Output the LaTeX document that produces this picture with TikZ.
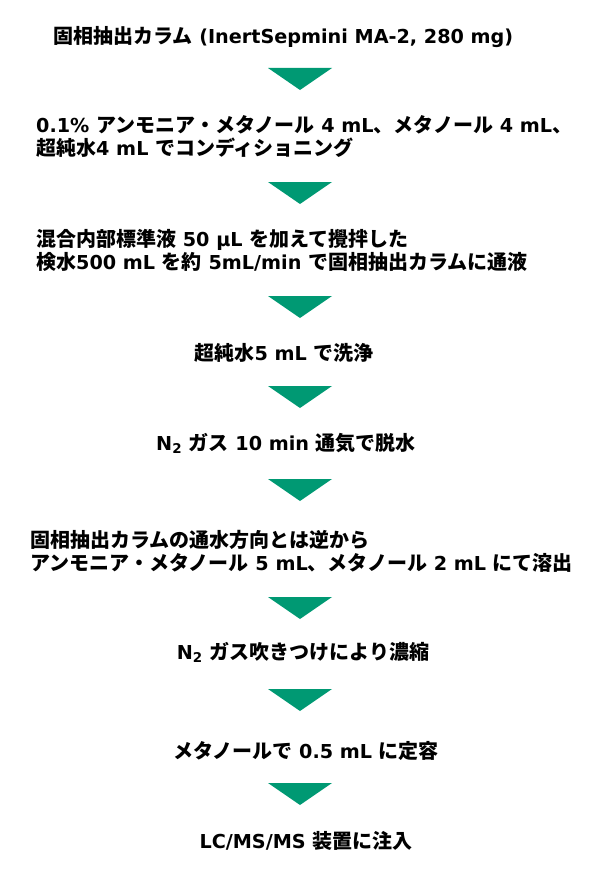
\documentclass[tikz,border=0pt]{standalone}
\usepackage{fontspec}
\setmainfont{DejaVu Sans}[Scale=0.96]
\newfontfamily\cjkfont{Noto Sans CJK JP}
% switch to the CJK family for kana, kanji and full width signs
\XeTeXinterchartokenstate=1
\newXeTeXintercharclass\cjkchars
\newcount\cjkcode
\newcommand\cjkrange[2]{\cjkcode=#1
   \loop \XeTeXcharclass\cjkcode=\cjkchars
   \ifnum\cjkcode<#2 \advance\cjkcode by 1 \repeat}
\cjkrange{"3000}{"30FF}
\cjkrange{"4E00}{"9FFF}
\cjkrange{"FF00}{"FFEF}
\XeTeXinterchartoks 0 \cjkchars = {\cjkfont}
\XeTeXinterchartoks 4095 \cjkchars = {\cjkfont}
\XeTeXinterchartoks \cjkchars 0 = {\rmfamily}
\XeTeXinterchartoks \cjkchars 4095 = {\rmfamily}
\definecolor{stepgreen}{RGB}{0,153,115}
\begin{document}
\begin{tikzpicture}[x=1pt,y=-1pt,
   steptext/.style={font=\fontsize{20}{23}\selectfont\bfseries, inner sep=0pt, align=left}]
   \useasboundingbox (0,0) rectangle (600,875);

	\node[steptext, anchor=base west] (column) at (53,43.5) {固相抽出カラム (InertSepmini MA-2, 280 mg)};
	\node[steptext, anchor=base west] (cond) at (36,155.5) {0.1\% アンモニア・メタノール 4 mL、メタノール 4 mL、\\超純水4 mL でコンディショニング};
	\node[steptext, anchor=base west] (load) at (36,269.5) {混合内部標準液 50 μL を加えて攪拌した\\検水500 mL を約 5mL/min で固相抽出カラムに通液};
	\node[steptext, anchor=base] (wash) at (284,360) {超純水5 mL で洗浄};
	\node[steptext, anchor=base] (dry) at (286,450.5) {N\textsubscript{2} ガス 10 min 通気で脱水};
	\node[steptext, anchor=base west] (elute) at (30,570.5) {固相抽出カラムの通水方向とは逆から\\アンモニア・メタノール 5 mL、メタノール 2 mL にて溶出};
	\node[steptext, anchor=base] (conc) at (303,659.5) {N\textsubscript{2} ガス吹きつけにより濃縮};
	\node[steptext, anchor=base] (vol) at (306,758) {メタノールで 0.5 mL に定容};
	\node[steptext, anchor=base] (inject) at (306,848.5) {LC/MS/MS 装置に注入};

	% arrows between the steps
	\foreach \y in {68,182,296,386,479,597,689,783}
	   \fill[stepgreen] (268,\y) -- (332,\y) -- (300,\y+22) -- cycle;

\end{tikzpicture}
\end{document}
